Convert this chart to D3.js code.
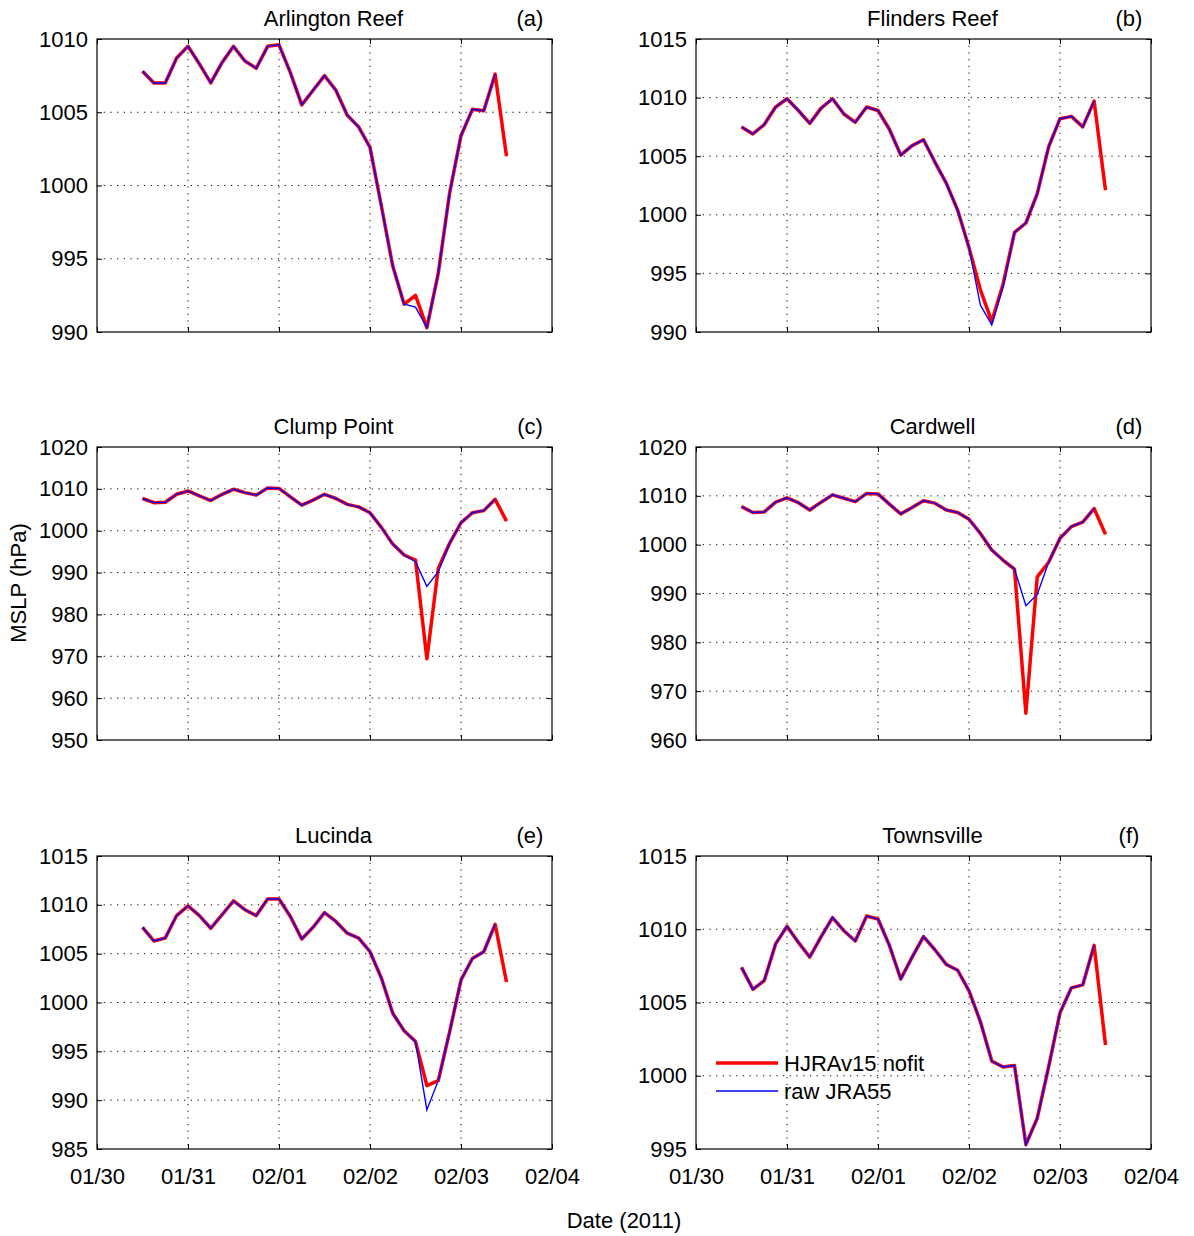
<!DOCTYPE html>
<html>
<head>
<meta charset="utf-8">
<script src="https://cdn.jsdelivr.net/npm/d3@7"></script>
<style>
  body { margin: 0; background: #fff; }
  svg { font-family: "Liberation Sans", Arial, sans-serif; }
</style>
</head>
<body>
<div id="chart"></div>
<script>
// 3-hourly MSLP (hPa), 2011-01-30 12:00 to 2011-02-03 12:00
const stations = ['Arlington Reef', 'Flinders Reef', 'Clump Point', 'Cardwell', 'Lucinda', 'Townsville']
const panelTags = ['(a)', '(b)', '(c)', '(d)', '(e)', '(f)']

const hjraArlington = [1007.8, 1007.0, 1007.0, 1008.7, 1009.5, 1008.3, 1007.0, 1008.4, 1009.5, 1008.5, 1008.0, 1009.5, 1009.6, 1007.7, 1005.5, 1006.5, 1007.5, 1006.5, 1004.8, 1004.0, 1002.6, 998.6, 994.5, 991.9, 992.5, 990.3, 994.0, 999.5, 1003.4, 1005.2, 1005.1, 1007.6, 1002.0]
const rawArlington = [1007.8, 1007.0, 1007.0, 1008.7, 1009.5, 1008.3, 1007.0, 1008.4, 1009.5, 1008.5, 1008.0, 1009.5, 1009.6, 1007.7, 1005.5, 1006.5, 1007.5, 1006.5, 1004.8, 1004.0, 1002.6, 998.6, 994.5, 991.9, 991.7, 990.3, 994.0, 999.5, 1003.4, 1005.2, 1005.1, 1007.6]

const hjraFlinders = [1007.5, 1006.9, 1007.7, 1009.2, 1009.9, 1008.9, 1007.8, 1009.1, 1009.9, 1008.6, 1007.9, 1009.2, 1008.9, 1007.3, 1005.1, 1005.9, 1006.4, 1004.5, 1002.7, 1000.4, 997.2, 993.6, 990.9, 994.1, 998.5, 999.3, 1001.8, 1005.8, 1008.2, 1008.4, 1007.5, 1009.7, 1002.1]
const rawFlinders = [1007.5, 1006.9, 1007.7, 1009.2, 1009.9, 1008.9, 1007.8, 1009.1, 1009.9, 1008.6, 1007.9, 1009.2, 1008.9, 1007.3, 1005.1, 1005.9, 1006.4, 1004.5, 1002.7, 1000.4, 997.2, 992.3, 990.6, 993.9, 998.5, 999.3, 1001.8, 1005.8, 1008.2, 1008.4, 1007.5, 1009.7]

const hjraClump = [1007.7, 1006.7, 1006.8, 1008.7, 1009.5, 1008.3, 1007.2, 1008.7, 1009.9, 1009.1, 1008.5, 1010.2, 1010.1, 1008.1, 1006.1, 1007.3, 1008.7, 1007.7, 1006.3, 1005.7, 1004.3, 1000.8, 996.8, 994.2, 993.0, 969.4, 991.0, 997.0, 1001.9, 1004.3, 1004.8, 1007.5, 1002.3]
const rawClump = [1007.7, 1006.7, 1006.8, 1008.7, 1009.5, 1008.3, 1007.2, 1008.7, 1009.9, 1009.1, 1008.5, 1010.2, 1010.1, 1008.1, 1006.1, 1007.3, 1008.7, 1007.7, 1006.3, 1005.7, 1004.3, 1000.8, 996.8, 994.2, 992.6, 986.7, 990.2, 997.0, 1001.9, 1004.3, 1004.8, 1007.5]

const hjraCardwell = [1007.8, 1006.6, 1006.7, 1008.7, 1009.6, 1008.6, 1007.1, 1008.7, 1010.2, 1009.5, 1008.8, 1010.5, 1010.4, 1008.3, 1006.3, 1007.6, 1009.0, 1008.5, 1007.1, 1006.6, 1005.2, 1002.3, 998.9, 996.8, 995.0, 965.5, 993.4, 996.4, 1001.3, 1003.7, 1004.6, 1007.4, 1002.1]
const rawCardwell = [1007.8, 1006.6, 1006.7, 1008.7, 1009.6, 1008.6, 1007.1, 1008.7, 1010.2, 1009.5, 1008.8, 1010.5, 1010.4, 1008.3, 1006.3, 1007.6, 1009.0, 1008.5, 1007.1, 1006.6, 1005.2, 1002.3, 998.9, 996.8, 995.0, 987.5, 989.8, 996.4, 1001.3, 1003.7, 1004.6, 1007.4]

const hjraLucinda = [1007.7, 1006.3, 1006.6, 1008.9, 1009.9, 1008.9, 1007.6, 1009.0, 1010.4, 1009.5, 1008.9, 1010.6, 1010.6, 1008.8, 1006.5, 1007.7, 1009.2, 1008.3, 1007.1, 1006.6, 1005.2, 1002.5, 998.9, 997.1, 996.0, 991.5, 992.0, 997.0, 1002.3, 1004.5, 1005.2, 1008.0, 1002.1]
const rawLucinda = [1007.7, 1006.3, 1006.6, 1008.9, 1009.9, 1008.9, 1007.6, 1009.0, 1010.4, 1009.5, 1008.9, 1010.6, 1010.6, 1008.8, 1006.5, 1007.7, 1009.2, 1008.3, 1007.1, 1006.6, 1005.2, 1002.5, 998.9, 997.1, 996.0, 989.0, 992.0, 997.0, 1002.3, 1004.5, 1005.2, 1008.0]

const hjraTownsville = [1007.4, 1005.9, 1006.5, 1009.0, 1010.2, 1009.1, 1008.1, 1009.5, 1010.8, 1009.9, 1009.2, 1010.9, 1010.7, 1008.9, 1006.6, 1008.1, 1009.5, 1008.6, 1007.6, 1007.2, 1005.8, 1003.7, 1001.0, 1000.6, 1000.7, 995.3, 997.1, 1000.6, 1004.3, 1006.0, 1006.2, 1008.9, 1002.1]
const rawTownsville = [1007.4, 1005.9, 1006.5, 1009.0, 1010.2, 1009.1, 1008.1, 1009.5, 1010.8, 1009.9, 1009.2, 1010.9, 1010.7, 1008.9, 1006.6, 1008.1, 1009.5, 1008.6, 1007.6, 1007.2, 1005.8, 1003.7, 1001.0, 1000.6, 1000.7, 995.3, 997.1, 1000.6, 1004.3, 1006.0, 1006.2, 1008.9]

const hjraSeries = [hjraArlington, hjraFlinders, hjraClump, hjraCardwell, hjraLucinda, hjraTownsville]
const rawSeries = [rawArlington, rawFlinders, rawClump, rawCardwell, rawLucinda, rawTownsville]

const yDomains = [[990, 1010], [990, 1015], [950, 1020], [960, 1020], [985, 1015], [995, 1015]]
const yTickSteps = [5, 5, 10, 10, 5, 5]
const xTickLabels = ['01/30', '01/31', '02/01', '02/02', '02/03', '02/04']

const width = 1194
const height = 1236
const colLeft = [97, 696]
const rowTop = [39, 447, 856]
const pw = 455
const ph = 293
const fs = '22px'

const parseDay = d3.timeParse('%Y-%m-%d')
const xStart = parseDay('2011-01-30')
const xEnd = parseDay('2011-02-04')
const times = d3.timeHour.every(3).range(d3.timeHour.offset(xStart, 12), d3.timeHour.offset(xStart, 4 * 24 + 13))
const xTickDates = d3.timeDay.range(xStart, d3.timeDay.offset(xEnd, 1))

const svg = d3.select('#chart')
  .append('svg')
  .attr('width', width)
  .attr('height', height)

stations.forEach((name, i) => {
  const col = i % 2
  const row = Math.floor(i / 2)
  const g = svg.append('g')
    .attr('transform', `translate(${colLeft[col]},${rowTop[row]})`)

  const x = d3.scaleTime().domain([xStart, xEnd]).range([0, pw])
  const y = d3.scaleLinear().domain(yDomains[i]).range([ph, 0])
  const yTicks = d3.range(yDomains[i][0], yDomains[i][1] + 0.1, yTickSteps[i])

  // dotted grid
  g.selectAll('.vgrid')
    .data(xTickDates.slice(1, -1))
    .join('line')
    .attr('x1', d => x(d)).attr('x2', d => x(d))
    .attr('y1', 0).attr('y2', ph)
    .attr('stroke', '#000')
    .attr('stroke-width', 1)
    .attr('stroke-dasharray', '1.2,5.5')

  g.selectAll('.hgrid')
    .data(yTicks.slice(1, -1))
    .join('line')
    .attr('x1', 0).attr('x2', pw)
    .attr('y1', d => y(d)).attr('y2', d => y(d))
    .attr('stroke', '#000')
    .attr('stroke-width', 1)
    .attr('stroke-dasharray', '1.2,5.5')

  // axes with inward ticks
  const yAxis = g.append('g')
    .call(d3.axisLeft(y).tickValues(yTicks).tickSizeInner(-5).tickSizeOuter(0).tickPadding(9).tickFormat(d3.format('d')))
  yAxis.select('.domain').remove()
  yAxis.selectAll('text').style('font-size', fs).attr('fill', '#000')

  g.append('g')
    .attr('transform', `translate(${pw},0)`)
    .call(d3.axisRight(y).tickValues(yTicks).tickSizeInner(-5).tickSizeOuter(0).tickFormat(''))
    .select('.domain').remove()

  const xAxis = g.append('g')
    .attr('transform', `translate(0,${ph})`)
    .call(d3.axisBottom(x).tickValues(xTickDates).tickSizeInner(-5).tickSizeOuter(0).tickPadding(19)
      .tickFormat((d, k) => row === 2 ? xTickLabels[k] : ''))
  xAxis.select('.domain').remove()
  xAxis.selectAll('text').style('font-size', fs).attr('fill', '#000')

  g.append('g')
    .call(d3.axisTop(x).tickValues(xTickDates).tickSizeInner(-5).tickSizeOuter(0).tickFormat(''))
    .select('.domain').remove()

  g.append('rect')
    .attr('width', pw).attr('height', ph)
    .attr('fill', 'none')
    .attr('stroke', '#000')
    .attr('stroke-width', 1.2)

  const line = d3.line()
    .x((d, k) => x(times[k]))
    .y(d => y(d))

  g.append('path')
    .datum(hjraSeries[i])
    .attr('d', line)
    .attr('fill', 'none')
    .attr('stroke', '#ff0000')
    .attr('stroke-width', 3.5)
    .attr('stroke-linejoin', 'round')

  g.append('path')
    .datum(rawSeries[i])
    .attr('d', line)
    .attr('fill', 'none')
    .attr('stroke', '#0000ff')
    .attr('stroke-width', 1.4)

  g.append('text')
    .attr('x', pw / 2 + 9)
    .attr('y', -13)
    .attr('text-anchor', 'middle')
    .style('font-size', fs)
    .text(name)

  g.append('text')
    .attr('x', pw - 22)
    .attr('y', -13)
    .attr('text-anchor', 'middle')
    .style('font-size', fs)
    .text(panelTags[i])

  // legend in last panel
  if (i === 5) {
    const legend = [['HJRAv15 nofit', '#ff0000', 3.5], ['raw JRA55', '#0000ff', 1.4]]
    const lg = g.append('g').attr('transform', 'translate(20,207)')
    legend.forEach((item, k) => {
      lg.append('line')
        .attr('x1', 0).attr('x2', 62)
        .attr('y1', k * 28).attr('y2', k * 28)
        .attr('stroke', item[1])
        .attr('stroke-width', item[2])
      lg.append('text')
        .attr('x', 68)
        .attr('y', k * 28 + 8)
        .style('font-size', fs)
        .text(item[0])
    })
  }
})

svg.append('text')
  .attr('transform', 'translate(26,583) rotate(-90)')
  .attr('text-anchor', 'middle')
  .style('font-size', fs)
  .text('MSLP (hPa)')

svg.append('text')
  .attr('x', 624)
  .attr('y', 1228)
  .attr('text-anchor', 'middle')
  .style('font-size', fs)
  .text('Date (2011)')
</script>
</body>
</html>
